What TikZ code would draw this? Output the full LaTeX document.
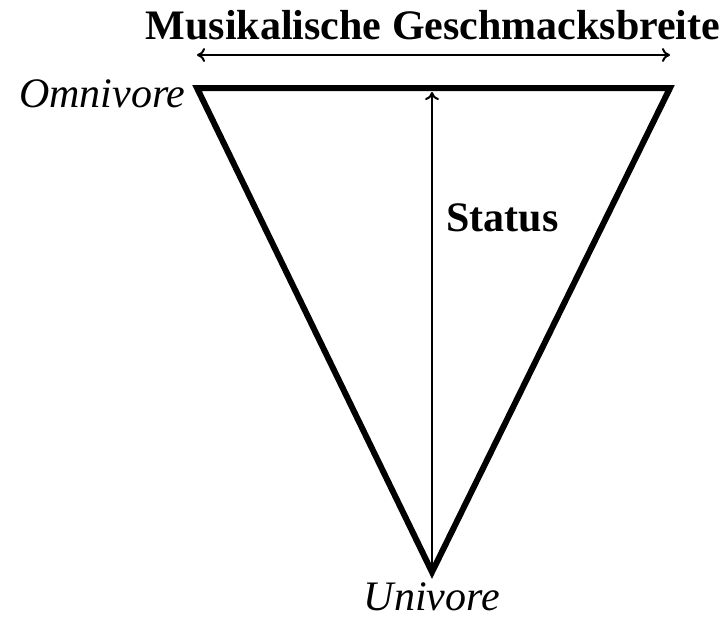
\documentclass[tikz,border=0pt]{standalone}
\usepackage{fontspec}
\setmainfont{Liberation Serif}
\usetikzlibrary{positioning, arrows.meta}
\begin{document}
\begin{tikzpicture}[
	x=0.5pt, y=-0.5pt,
	>={To[length=4pt, width=7pt]},
	edge/.style={line width=3pt, line join=miter},
	label/.style={font=\fontsize{21}{24}\selectfont\itshape, inner sep=0pt},
	heading/.style={font=\fontsize{21}{24}\selectfont\bfseries, inner sep=0pt}
]
	\useasboundingbox (0, 0) rectangle (722, 617);
	% Triangle
	\coordinate (tl) at (197, 88);
	\coordinate (tr) at (670, 88);
	\coordinate (bot) at (432, 572);
	\coordinate (top) at (432, 92);
	\draw[edge] (tl) -- (tr) -- (bot) -- cycle;
	\draw[->, line width=1pt] (bot) -- (top);
	% Width arrow
	\coordinate (wl) at (197, 55);
	\coordinate (wr) at (670, 55);
	\draw[<->, line width=1pt] (wl) -- (wr);
	\node[heading] (title) at (433, 25) {Musikalische Geschmacksbreite};
	\node[heading, anchor=west] (status) at (446, 218) {Status};
	\node[label, anchor=east] (omni) at (186, 94) {Omnivore};
	\node[label] (uni) at (432, 597) {Univore};
\end{tikzpicture}
\end{document}
